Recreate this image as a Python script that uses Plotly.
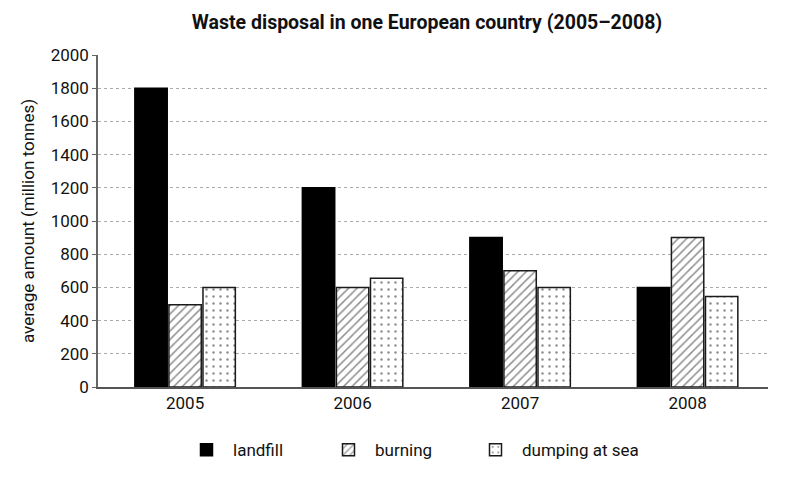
import plotly.graph_objects as go

years = ["2005", "2006", "2007", "2008"]
landfill = [1800, 1200, 900, 600]
burning = [495, 600, 700, 900]
dumping = [600, 655, 600, 545]
y_ticks = [0, 200, 400, 600, 800, 1000, 1200, 1400, 1600, 1800, 2000]

FONT = "Roboto, Liberation Sans, sans-serif"
TXT = "#111111"

fig = go.Figure()
fig.add_trace(go.Bar(
    name="landfill", x=years, y=landfill, legend="legend",
    marker=dict(color="#000000", line=dict(color="#000000", width=1.5)),
))
fig.add_trace(go.Bar(
    name="burning", x=years, y=burning, legend="legend2",
    marker=dict(color="#ffffff", line=dict(color="#1a1a1a", width=1.5),
                pattern=dict(shape="/", fgcolor="#1a1a1a", bgcolor="#ffffff",
                             size=6, solidity=0.25)),
))
fig.add_trace(go.Bar(
    name="dumping at sea", x=years, y=dumping, legend="legend3",
    marker=dict(color="#ffffff", line=dict(color="#1a1a1a", width=1.5),
                pattern=dict(shape=".", fgcolor="#1a1a1a", bgcolor="#ffffff",
                             size=7, solidity=0.1)),
))

def leg(xpx):
    return dict(orientation="h", x=(xpx - 98) / 670, xanchor="left",
                y=-0.19, yanchor="middle", bgcolor="rgba(0,0,0,0)",
                itemwidth=43,
                font=dict(size=17, family=FONT, color=TXT))

fig.update_layout(
    width=800, height=480,
    margin=dict(l=98, r=32, t=55, b=93),
    paper_bgcolor="white", plot_bgcolor="white",
    barmode="group", bargap=0.39, bargroupgap=0.05,
    font=dict(family=FONT, color=TXT, size=17),
    title=dict(text="<b>Waste disposal in one European country (2005–2008)</b>",
               x=427 / 800, xanchor="center", xref="container",
               y=0.953, yanchor="middle",
               font=dict(size=19.5, family=FONT, color=TXT)),
    showlegend=True,
    legend=leg(180),
    legend2=leg(322),
    legend3=leg(469),
)
fig.update_yaxes(
    range=[0, 2000], tickvals=y_ticks, ticktext=[str(v) for v in y_ticks],
    showgrid=True, gridcolor="#aaaaaa", griddash="dot", gridwidth=1,
    showline=True, linecolor="#666666", linewidth=1.5,
    ticks="outside", ticklen=4, tickcolor="#666666",
    tickfont=dict(size=17, family=FONT, color=TXT),
    title=dict(text="average amount (million tonnes)", font=dict(size=17, family=FONT, color=TXT), standoff=12),
    zeroline=False,
)
fig.update_xaxes(
    range=[-0.52, 3.48],
    showline=True, linecolor="#555555", linewidth=2,
    tickfont=dict(size=17, family=FONT, color=TXT),
    ticks="", showgrid=False,
)

fig.write_html("out.html")
